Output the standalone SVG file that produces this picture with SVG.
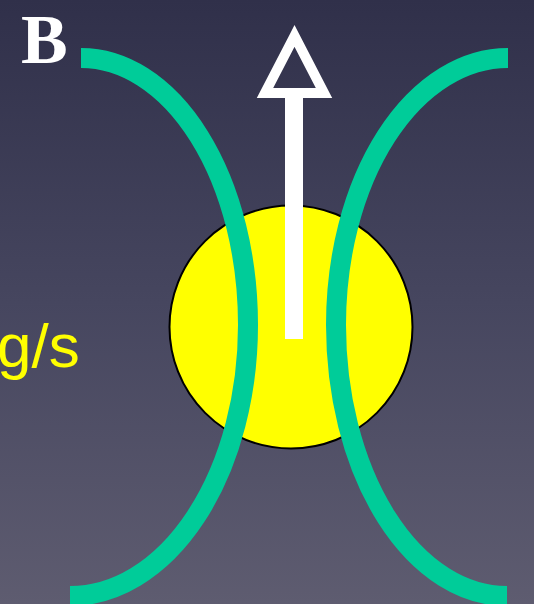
<svg xmlns="http://www.w3.org/2000/svg" width="534" height="604" viewBox="0 0 534 604">
<defs>
<linearGradient id="bg" x1="0" y1="0" x2="0" y2="1">
<stop offset="0" stop-color="#30304a"/>
<stop offset="0.5" stop-color="#46465f"/>
<stop offset="1" stop-color="#5e5c70"/>
</linearGradient>
</defs>
<style>
.curve{fill:none;stroke:#00cc99;stroke-width:20;stroke-linecap:butt}
.arrow{fill:#ffffff;stroke:none}
</style>
<rect x="0" y="0" width="534" height="604" fill="url(#bg)"/>
<g id="label-B"><text x="21" y="63" font-family="Liberation Serif, serif" font-weight="bold" font-size="70" fill="#ffffff">B</text></g>
<g id="label-gs"><text x="-3" y="367" font-family="Liberation Sans, Arial, sans-serif" font-size="62" fill="#ffff00">g/s</text></g>
<g id="ball"><circle cx="291" cy="327" r="121.5" fill="#ffff00" stroke="#000000" stroke-width="2"/></g>
<g id="walls">
<path class="curve" d="M81,58 A167,267 0 0 1 248,325 A178,271 0 0 1 70,596"/>
<path class="curve" d="M508,58 A172,267 0 0 0 336,325 A171,271 0 0 0 507,596"/>
</g>
<g id="arrow">
<rect class="arrow" x="285" y="88" width="18" height="251"/>
<polygon points="294.5,36 265,93 324,93" fill="none" stroke="#ffffff" stroke-width="10" stroke-linejoin="miter" stroke-miterlimit="10"/>
</g>
</svg>
